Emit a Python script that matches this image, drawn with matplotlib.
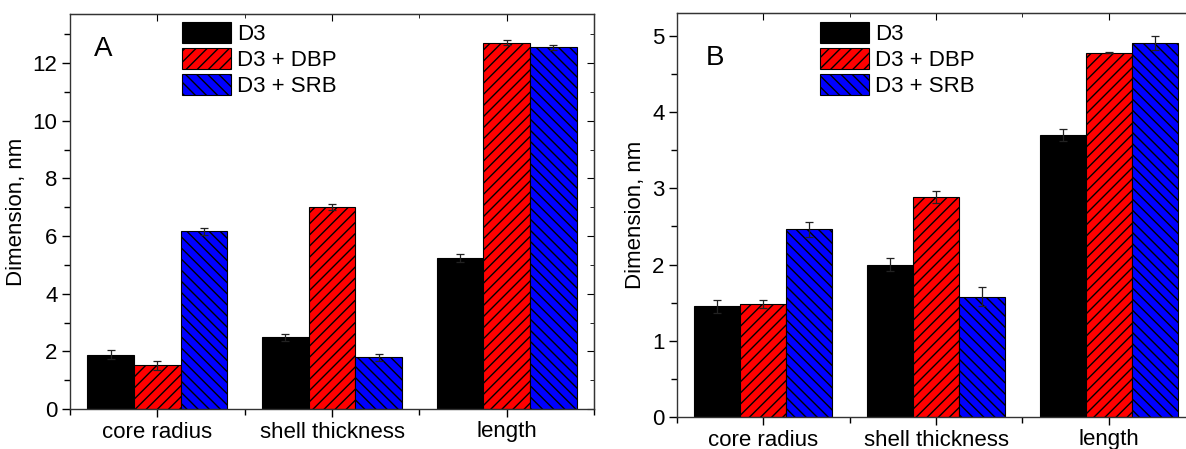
import matplotlib.pyplot as plt
import numpy as np
from matplotlib.ticker import MultipleLocator

categories = ["core radius", "shell thickness", "length"]
series = ["D3", "D3 + DBP", "D3 + SRB"]

a_d3 = [1.88, 2.48, 5.23]
a_d3_err = [0.16, 0.11, 0.13]
a_dbp = [1.51, 7.00, 12.71]
a_dbp_err = [0.15, 0.10, 0.10]
a_srb = [6.16, 1.79, 12.54]
a_srb_err = [0.13, 0.12, 0.10]

b_d3 = [1.45, 2.00, 3.70]
b_d3_err = [0.08, 0.09, 0.08]
b_dbp = [1.48, 2.89, 4.78]
b_dbp_err = [0.05, 0.08, 0.01]
b_srb = [2.46, 1.58, 4.91]
b_srb_err = [0.10, 0.12, 0.09]

plt.rcParams["font.family"] = ["Liberation Sans", "DejaVu Sans"]
plt.rcParams["hatch.linewidth"] = 1.0

colors = ["#000000", "#ff0000", "#0000ff"]
hatches = [None, "///", "\\\\\\"]
FS = 16
fig = plt.figure(figsize=(11.86, 4.49), dpi=100)


def px_axes(left, right, bottom, top):
    return fig.add_axes([left / 1186, (449 - bottom) / 449,
                         (right - left) / 1186, (bottom - top) / 449])


def draw_panel(ax, vals, errs, ymax, major, minor, letter, letter_pos, leg_pos):
    x = np.arange(1, len(categories) + 1)
    bw = 0.267
    for i, (v, e) in enumerate(zip(vals, errs)):
        ax.bar(x + (i - 1) * bw, v, width=bw, color=colors[i], edgecolor="black",
               linewidth=0.8, hatch=hatches[i], label=series[i], zorder=2)
        ax.errorbar(x + (i - 1) * bw, v, yerr=e, fmt="none", ecolor="#222222",
                    elinewidth=0.9, capsize=3, capthick=0.9, zorder=3)
    ax.set_xlim(0.5, 3.5)
    ax.set_ylim(0, ymax)
    ax.set_xticks(x)
    ax.set_xticklabels(categories, fontsize=FS)
    ax.xaxis.set_minor_locator(MultipleLocator(0.5))
    ax.yaxis.set_major_locator(MultipleLocator(major))
    ax.yaxis.set_minor_locator(MultipleLocator(minor))
    ax.tick_params(which="major", direction="out", length=6, width=1,
                   labelsize=FS, pad=3)
    ax.tick_params(which="minor", direction="out", length=4, width=1)
    ax.set_ylabel("Dimension, nm", fontsize=FS, labelpad=4)
    for sp in ax.spines.values():
        sp.set_linewidth(1.0)
        sp.set_color("#333333")

    # mirrored ticks on top and right, pointing inward
    top = ax.secondary_xaxis("top")
    top.set_xticks(x)
    top.xaxis.set_minor_locator(MultipleLocator(0.5))
    top.tick_params(which="both", direction="in", labeltop=False)
    top.tick_params(which="major", length=5)
    top.tick_params(which="minor", length=3)
    right = ax.secondary_yaxis("right")
    right.yaxis.set_major_locator(MultipleLocator(major))
    right.yaxis.set_minor_locator(MultipleLocator(minor))
    right.tick_params(which="both", direction="in", labelright=False)
    right.tick_params(which="major", length=5)
    right.tick_params(which="minor", length=3)
    for s in (top, right):
        for sp in s.spines.values():
            sp.set_color("#333333")

    ax.text(letter_pos[0], letter_pos[1], letter, transform=ax.transAxes,
            fontsize=20, va="center", ha="left")
    ax.legend(loc="upper left", bbox_to_anchor=leg_pos, frameon=False,
              fontsize=FS, handlelength=2.2, handleheight=1.08,
              labelspacing=0.14, handletextpad=0.28, borderpad=0,
              borderaxespad=0)


ax_a = px_axes(70, 594, 409, 14)
draw_panel(ax_a, [a_d3, a_dbp, a_srb], [a_d3_err, a_dbp_err, a_srb_err],
           13.7, 2, 1, "A", (0.045, 0.912), (0.214, 0.98))

ax_b = px_axes(677, 1195, 417, 13)
draw_panel(ax_b, [b_d3, b_dbp, b_srb], [b_d3_err, b_dbp_err, b_srb_err],
           5.3, 1, 0.5, "B", (0.055, 0.889), (0.276, 0.978))

fig.savefig("out.png", dpi=100)
